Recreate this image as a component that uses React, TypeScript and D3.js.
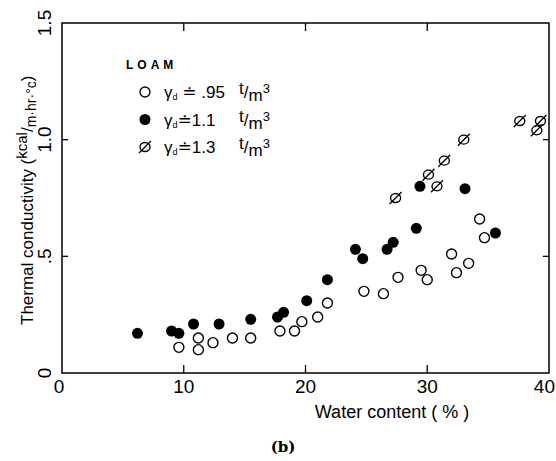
import React, { useEffect, useRef } from 'react';
import * as d3 from 'd3';

// thermal conductivity of loam vs water content, three dry densities
const loam095 = [
  [9.6, 0.11], [11.2, 0.15], [11.2, 0.1], [12.4, 0.13], [14.0, 0.15], [15.5, 0.15],
  [17.9, 0.18], [19.1, 0.18], [19.7, 0.22], [21.0, 0.24], [21.8, 0.3], [24.8, 0.35],
  [26.4, 0.34], [27.6, 0.41], [29.5, 0.44], [30.0, 0.4], [32.0, 0.51], [32.4, 0.43],
  [33.4, 0.47], [34.3, 0.66], [34.7, 0.58],
];
const loam11 = [
  [6.2, 0.17], [9.0, 0.18], [9.6, 0.17], [10.8, 0.21], [12.9, 0.21], [15.5, 0.23],
  [17.7, 0.24], [18.2, 0.26], [20.1, 0.31], [21.8, 0.4], [24.1, 0.53], [24.7, 0.49],
  [26.7, 0.53], [27.2, 0.56], [29.1, 0.62], [29.4, 0.8], [33.1, 0.79], [35.6, 0.6],
];
const loam13 = [
  [27.4, 0.75], [30.1, 0.85], [30.8, 0.8], [31.4, 0.91], [33.0, 1.0], [37.6, 1.08],
  [39.3, 1.08], [39.0, 1.04],
];
const xTicks = [0, 10, 20, 30, 40];
const yTicks = [0, 0.5, 1.0, 1.5];
const yTickText = ['0', '.5', '1.0', '1.5'];
const legendRows = [
  { kind: 'open', label: '.95' },
  { kind: 'filled', label: '1.1' },
  { kind: 'hatched', label: '1.3' },
];

const font = '"Liberation Sans", "DejaVu Sans", sans-serif';

const App = () => {
  const ref = useRef(null);

  const graph = () => {
    const svg = d3.select(ref.current);
    svg.selectAll('*').remove();

    const x = d3.scaleLinear().domain([0, 40]).range([62, 549]);
    const y = d3.scaleLinear().domain([0, 1.5]).range([373, 23]);

    const drawMark = (g, kind, cx, cy) => {
      if (kind === 'filled') {
        g.append('circle').attr('cx', cx).attr('cy', cy).attr('r', 5.5).attr('fill', '#000');
      } else if (kind === 'open') {
        g.append('circle').attr('cx', cx).attr('cy', cy).attr('r', 5)
          .attr('fill', 'none').attr('stroke', '#000').attr('stroke-width', 1.4);
      } else {
        g.append('ellipse').attr('cx', cx).attr('cy', cy).attr('rx', 5).attr('ry', 4.5)
          .attr('fill', 'none').attr('stroke', '#000').attr('stroke-width', 1.4);
        g.append('line')
          .attr('x1', cx - 6).attr('y1', cy + 6).attr('x2', cx + 6).attr('y2', cy - 6)
          .attr('stroke', '#000').attr('stroke-width', 1.3);
      }
    };

    // frame
    svg.append('rect')
      .attr('x', x(0)).attr('y', y(1.5))
      .attr('width', x(40) - x(0)).attr('height', y(0) - y(1.5))
      .attr('fill', 'none').attr('stroke', '#000').attr('stroke-width', 1.5);

    const ticks = svg.append('g').attr('stroke', '#000').attr('stroke-width', 1.3);
    [10, 20, 30].forEach((t) => {
      ticks.append('line').attr('x1', x(t)).attr('x2', x(t)).attr('y1', y(0)).attr('y2', y(0) - 8);
      ticks.append('line').attr('x1', x(t)).attr('x2', x(t)).attr('y1', y(1.5)).attr('y2', y(1.5) + 8);
    });
    [0.5, 1.0].forEach((t) => {
      ticks.append('line').attr('x1', x(0)).attr('x2', x(0) + 6).attr('y1', y(t)).attr('y2', y(t));
      ticks.append('line').attr('x1', x(40)).attr('x2', x(40) - 6).attr('y1', y(t)).attr('y2', y(t));
    });

    // tick labels
    svg.append('g').selectAll('text').data(xTicks).join('text')
      .attr('x', (d) => (d === 40 ? 555 : x(d) - (d === 0 ? 3 : 0))).attr('y', 393)
      .attr('text-anchor', (d) => (d === 40 ? 'end' : 'middle'))
      .attr('font-family', font).attr('font-size', 19)
      .text((d) => d);

    svg.append('g').selectAll('text').data(yTicks).join('text')
      .attr('transform', (d) => `translate(51,${y(d)}) rotate(-90)`)
      .attr('text-anchor', 'middle').attr('font-family', font).attr('font-size', 19)
      .text((d, i) => yTickText[i]);

    // axis titles
    const yt = svg.append('text')
      .attr('transform', 'translate(33,325) rotate(-90)')
      .attr('font-family', font).attr('font-size', 17);
    yt.append('tspan').text('Thermal conductivity (');
    yt.append('tspan').attr('dy', -6).attr('font-size', 15).text('kcal');
    yt.append('tspan').attr('dy', 6).attr('font-size', 17).text('/');
    yt.append('tspan').attr('dy', 3).attr('font-size', 14).text('m·hr·°c');
    yt.append('tspan').attr('dy', -3).attr('font-size', 17).text(')');

    svg.append('text')
      .attr('x', 392).attr('y', 418).attr('text-anchor', 'middle')
      .attr('font-family', font).attr('font-size', 18)
      .text('Water content ( % )');

    svg.append('text')
      .attr('x', 283).attr('y', 452).attr('text-anchor', 'middle')
      .attr('font-family', '"DejaVu Serif", serif').attr('font-weight', 'bold').attr('font-size', 15)
      .text('(b)');

    // legend
    svg.append('text')
      .attr('x', 126).attr('y', 69)
      .attr('font-family', font).attr('font-weight', 'bold').attr('font-size', 12)
      .attr('letter-spacing', 4).text('LOAM');

    const leg = svg.append('g');
    legendRows.forEach((row, i) => {
      const cy = 92 + i * 27.5;
      drawMark(leg, row.kind, 145, cy);
      const t = leg.append('text').attr('x', 164).attr('y', cy + 6)
        .attr('font-family', font).attr('font-size', 17);
      t.append('tspan').text('γ');
      t.append('tspan').attr('font-size', 9).attr('dy', 2).text('d');
      t.append('tspan').attr('dy', -2).attr('font-size', 17)
        .text(row.kind === 'open' ? ' \u2250  ' + row.label : '\u2250' + row.label);
      const u = leg.append('text').attr('x', 239).attr('y', cy + 6)
        .attr('font-family', font).attr('font-size', 17);
      u.append('tspan').attr('dy', -4).text('t');
      u.append('tspan').attr('dy', 4).text('/');
      u.append('tspan').attr('dy', 3).text('m');
      u.append('tspan').attr('dy', -8).attr('font-size', 13).text('3');
    });

    // data
    const pts = svg.append('g');
    loam095.forEach((d) => drawMark(pts, 'open', x(d[0]), y(d[1])));
    loam11.forEach((d) => drawMark(pts, 'filled', x(d[0]), y(d[1])));
    loam13.forEach((d) => drawMark(pts, 'hatched', x(d[0]), y(d[1])));
  };

  // eslint-disable-next-line
  useEffect(() => graph(), []);
  return (
    <svg
      ref={ref}
      width="556"
      height="461"
      style={{ position: 'absolute', left: 0, top: 0, background: '#fff' }}></svg>
  );
};

export default App;
